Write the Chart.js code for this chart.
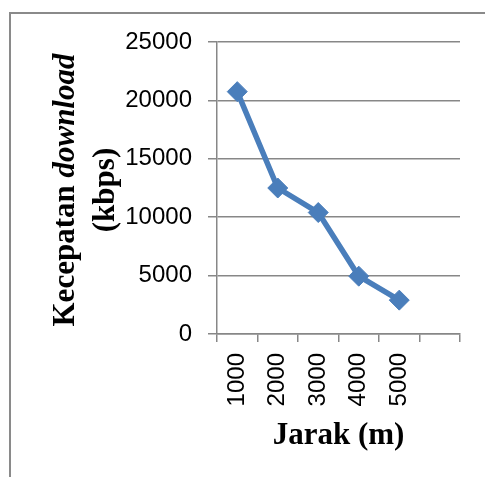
<!DOCTYPE html>
<html><head><meta charset="utf-8">
<script src="https://cdn.jsdelivr.net/npm/chart.js@4"></script>
<style>html,body{margin:0;padding:0;background:#fff;overflow:hidden}#wrap{width:485px;height:477px;position:relative}</style>
</head><body><div id="wrap"><canvas id="c" width="485" height="477"></canvas></div>
<script>
// ---- data ----
const categories = ["1000", "2000", "3000", "4000", "5000", ""];
const speedValues = [20750, 12500, 10400, 4950, 2900];
const yMin = 0;
const yMax = 25000;
const yStep = 5000;
const xTitle = "Jarak (m)";
const yTitleLine1 = ["Kecepatan ", "download"];
const yTitleLine2 = "(kbps)";

const GRID = '#878787';
const BLUE = '#4a7ebb';
const TICK_FONT = {family: "'Liberation Sans', Arial, sans-serif", size: 24};
const TITLE_FAMILY = "'Liberation Serif', 'Times New Roman', serif";

const framePlugin = {
  id: 'frame',
  beforeDraw(chart) {
    const ctx = chart.ctx;
    ctx.save();
    ctx.strokeStyle = '#8a8a8a';
    ctx.lineWidth = 2;
    ctx.beginPath();
    ctx.moveTo(10, chart.height);
    ctx.lineTo(10, 13);
    ctx.lineTo(chart.width, 13);
    ctx.stroke();
    ctx.restore();
  }
};

const yTitlePlugin = {
  id: 'yTitle',
  afterDraw(chart) {
    const ctx = chart.ctx;
    const area = chart.chartArea;
    const cy = (area.top + area.bottom) / 2 + 2;
    const size = 31;
    const fNormal = 'bold ' + size + 'px ' + TITLE_FAMILY;
    const fItalic = 'italic bold ' + size + 'px ' + TITLE_FAMILY;
    ctx.save();
    ctx.fillStyle = '#000';
    ctx.textBaseline = 'alphabetic';
    ctx.textAlign = 'left';
    // line 1
    ctx.font = fNormal;
    const w1a = ctx.measureText(yTitleLine1[0]).width;
    ctx.font = fItalic;
    const w1b = ctx.measureText(yTitleLine1[1]).width;
    const total1 = w1a + w1b;
    ctx.save();
    ctx.translate(74, cy);
    ctx.rotate(-Math.PI / 2);
    ctx.font = fNormal;
    ctx.fillText(yTitleLine1[0], -total1 / 2, 0);
    ctx.font = fItalic;
    ctx.fillText(yTitleLine1[1], -total1 / 2 + w1a, 0);
    ctx.restore();
    // line 2
    ctx.save();
    ctx.translate(114, cy);
    ctx.rotate(-Math.PI / 2);
    ctx.font = fNormal;
    ctx.textAlign = 'center';
    ctx.fillText(yTitleLine2, 0, 0);
    ctx.restore();
    ctx.restore();
  }
};

new Chart(document.getElementById('c'), {
  type: 'line',
  data: {
    labels: categories,
    datasets: [{
      data: speedValues,
      borderColor: BLUE,
      backgroundColor: BLUE,
      borderWidth: 5.5,
      borderJoinStyle: 'round',
      tension: 0,
      pointStyle: 'rectRot',
      pointRadius: 10,
      pointBorderWidth: 1,
      pointBorderColor: BLUE,
      pointBackgroundColor: BLUE
    }]
  },
  options: {
    responsive: false,
    animation: false,
    devicePixelRatio: 1,
    layout: {padding: {left: 0, top: 42, right: 25, bottom: 0}},
    plugins: {legend: {display: false}, tooltip: {enabled: false}},
    scales: {
      x: {
        type: 'category',
        offset: true,
        grid: {display: true, drawOnChartArea: false, drawTicks: true, tickLength: 8, offset: true, color: GRID, lineWidth: 1.5},
        border: {display: true, color: GRID, width: 1.5},
        ticks: {minRotation: 90, maxRotation: 90, autoSkip: false, padding: 11, font: TICK_FONT, color: '#000'},
        title: {display: true, text: xTitle, color: '#000',
                font: {family: TITLE_FAMILY, weight: 'bold', size: 31},
                padding: {top: 0, bottom: 22}},
        afterFit(s) { s.height = 143; }
      },
      y: {
        min: yMin,
        max: yMax,
        ticks: {stepSize: yStep, padding: 16, font: TICK_FONT, color: '#000',
                callback: (v) => String(v)},
        grid: {color: GRID, lineWidth: 1.5, tickLength: 9},
        border: {display: true, color: GRID, width: 1.5},
        afterFit(s) { s.width = 217; }
      }
    }
  },
  plugins: [framePlugin, yTitlePlugin]
});
</script>
</body></html>
